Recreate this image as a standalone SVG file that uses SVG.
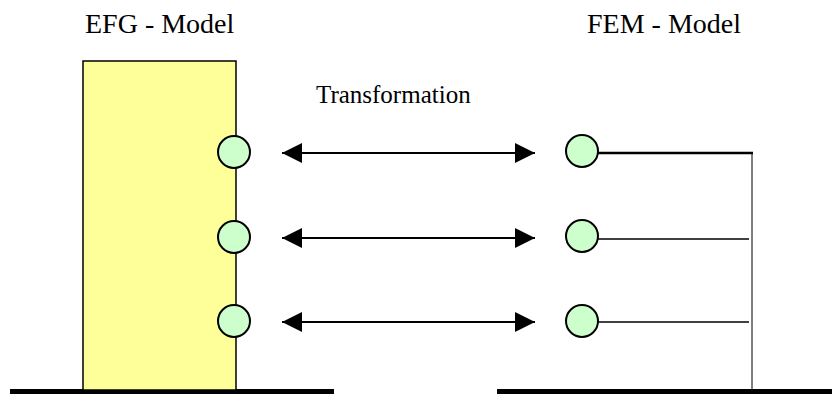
<svg xmlns="http://www.w3.org/2000/svg" width="832" height="394" viewBox="0 0 832 394">
<style>
.t{font-family:"Liberation Serif","Times New Roman",serif;fill:#000}
.node{fill:#CCFFCC;stroke:#000;stroke-width:2}
.arr{stroke:#000;stroke-width:2;fill:none}
.ln{stroke:#000;fill:none}
</style>
<defs>
<marker id="ah" viewBox="0 0 20 20" refX="20" refY="10" markerWidth="20" markerHeight="20" markerUnits="userSpaceOnUse" orient="auto-start-reverse">
<path d="M0,0 L20,10 L0,20 Z" fill="#000"/>
</marker>
</defs>
<g id="labels">
<text class="t" x="85" y="33" font-size="28">EFG - Model</text>
<text class="t" x="587" y="33" font-size="28">FEM - Model</text>
<text class="t" x="316" y="103" font-size="25">Transformation</text>
</g>
<g id="ground">
<rect x="10" y="389" width="324" height="5" fill="#000"/>
<rect x="497" y="389" width="335" height="5" fill="#000"/>
</g>
<g id="efg-model">
<rect x="83" y="61" width="153" height="329" fill="#FFFF99" stroke="#000" stroke-width="1.5"/>
</g>
<g id="connectors">
<line class="arr" x1="282" y1="153" x2="535" y2="153" marker-start="url(#ah)" marker-end="url(#ah)"/>
<line class="arr" x1="282" y1="238" x2="535" y2="238" marker-start="url(#ah)" marker-end="url(#ah)"/>
<line class="arr" x1="282" y1="322" x2="535" y2="322" marker-start="url(#ah)" marker-end="url(#ah)"/>
<line class="ln" x1="598" y1="153" x2="753" y2="153" stroke-width="2.5"/>
<line class="ln" x1="752" y1="152" x2="752" y2="390" stroke-width="1"/>
<line class="ln" x1="598" y1="239" x2="749" y2="239" stroke-width="1.3"/>
<line class="ln" x1="598" y1="322" x2="749" y2="322" stroke-width="1.3"/>
</g>
<g id="efg-node-1"><circle class="node" cx="234" cy="152" r="16"/></g>
<g id="efg-node-2"><circle class="node" cx="234" cy="237" r="16"/></g>
<g id="efg-node-3"><circle class="node" cx="234" cy="321" r="16"/></g>
<g id="fem-node-1"><circle class="node" cx="582" cy="151" r="16"/></g>
<g id="fem-node-2"><circle class="node" cx="582" cy="236" r="16"/></g>
<g id="fem-node-3"><circle class="node" cx="582" cy="321" r="16"/></g>
</svg>
